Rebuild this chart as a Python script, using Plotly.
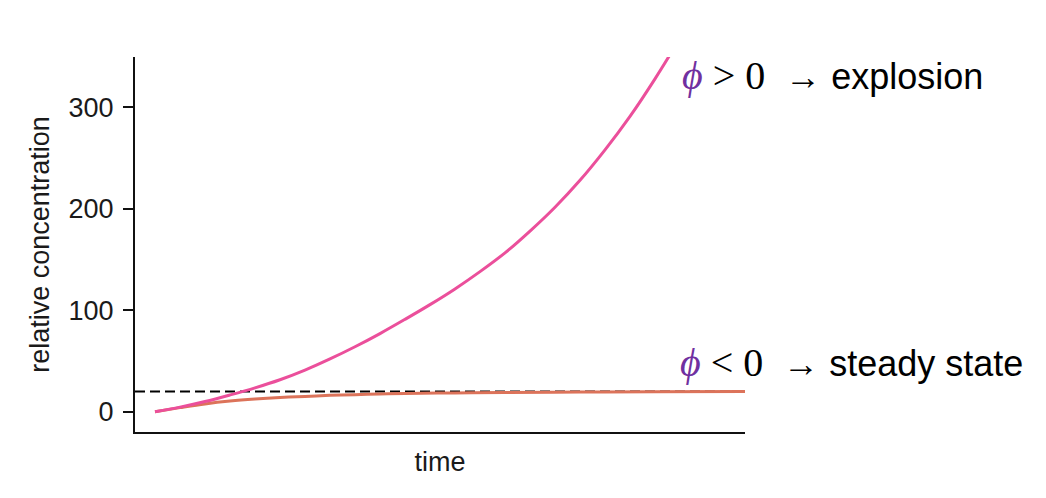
import plotly.graph_objects as go

# time in arbitrary units
t_pink = [0, 1, 2, 3, 4, 5, 6, 7, 8, 9, 10, 11, 12, 13, 14, 15, 16, 17, 18, 19, 20, 21]
v_pink = [0, 4.5, 10, 16.5, 23.5, 31.5, 41, 52, 64, 77, 91, 105.5, 121, 138, 156.5,
          178, 201.5, 228, 258, 291, 328, 368]

t_orange = [0, 1, 2, 3, 4, 5, 6, 7, 8, 9, 10, 12, 14, 17, 20, 23.6]
v_orange = [0, 4, 7.7, 10.5, 12.5, 14, 15.1, 16.1, 16.8, 17.4, 17.9, 18.5, 18.9, 19.3, 19.6, 19.8]

steady_level = 20
y_ticks = [0, 100, 200, 300]

PINK = "#EB4F9B"
ORANGE = "#DC735A"
PURPLE = "#7030A0"
FONT = "Liberation Sans"
SERIF = "Liberation Serif"

# page has an 8px body margin: figure is shrunk so the plot lands where it should
OFF = 8
W, H = 1046 - 2 * OFF, 498 - 2 * OFF
L, T = 135 - OFF, 57 - OFF
PW, PH = 610, 375

fig = go.Figure()
fig.add_trace(go.Scatter(x=t_orange, y=v_orange, mode="lines",
                         line=dict(color=ORANGE, width=3, shape="spline"), showlegend=False))
fig.add_trace(go.Scatter(x=t_pink, y=v_pink, mode="lines",
                         line=dict(color=PINK, width=3, shape="spline"), showlegend=False))

fig.add_shape(type="line", xref="paper", yref="y", x0=0, x1=1,
              y0=steady_level, y1=steady_level, layer="below",
              line=dict(color="black", width=2, dash="10px,5px"))

def label(sign, word):
    return (f"<span style='font-family:{SERIF};font-size:40px;color:{PURPLE}'><i>ϕ</i></span>"
            f"<span style='font-family:{SERIF};font-size:40px'> {sign} 0 </span> → {word}")

fig.add_annotation(xref="paper", yref="paper", x=(680 - 135) / PW, y=(432 - 75) / PH,
                   text=label("&gt;", "explosion"), showarrow=False,
                   xanchor="left", yanchor="middle",
                   font=dict(family=FONT, size=36, color="black"))
fig.add_annotation(xref="paper", yref="paper", x=(678 - 135) / PW, y=(432 - 362) / PH,
                   text=label("&lt;", "steady state"), showarrow=False,
                   xanchor="left", yanchor="middle",
                   font=dict(family=FONT, size=36, color="black"))

fig.update_layout(
    width=W, height=H,
    margin=dict(l=L, r=W - L - PW, t=T, b=H - T - PH),
    plot_bgcolor="white", paper_bgcolor="white",
    font=dict(family=FONT, size=27, color="#1a1a1a"),
)
fig.update_xaxes(range=[-0.8, 23.6], showgrid=False, zeroline=False,
                 showticklabels=False, ticks="",
                 showline=True, linecolor="#111", linewidth=2,
                 title=dict(text="time", standoff=19, font=dict(size=27)))
fig.update_yaxes(range=[-20, 349.5], showgrid=False, zeroline=False,
                 tickvals=y_ticks, ticks="outside", ticklen=10, tickwidth=2,
                 tickcolor="#111", ticklabelstandoff=4,
                 showline=True, linecolor="#111", linewidth=2,
                 title=dict(text="relative concentration", standoff=11, font=dict(size=27)))

fig.write_html("out.html")
